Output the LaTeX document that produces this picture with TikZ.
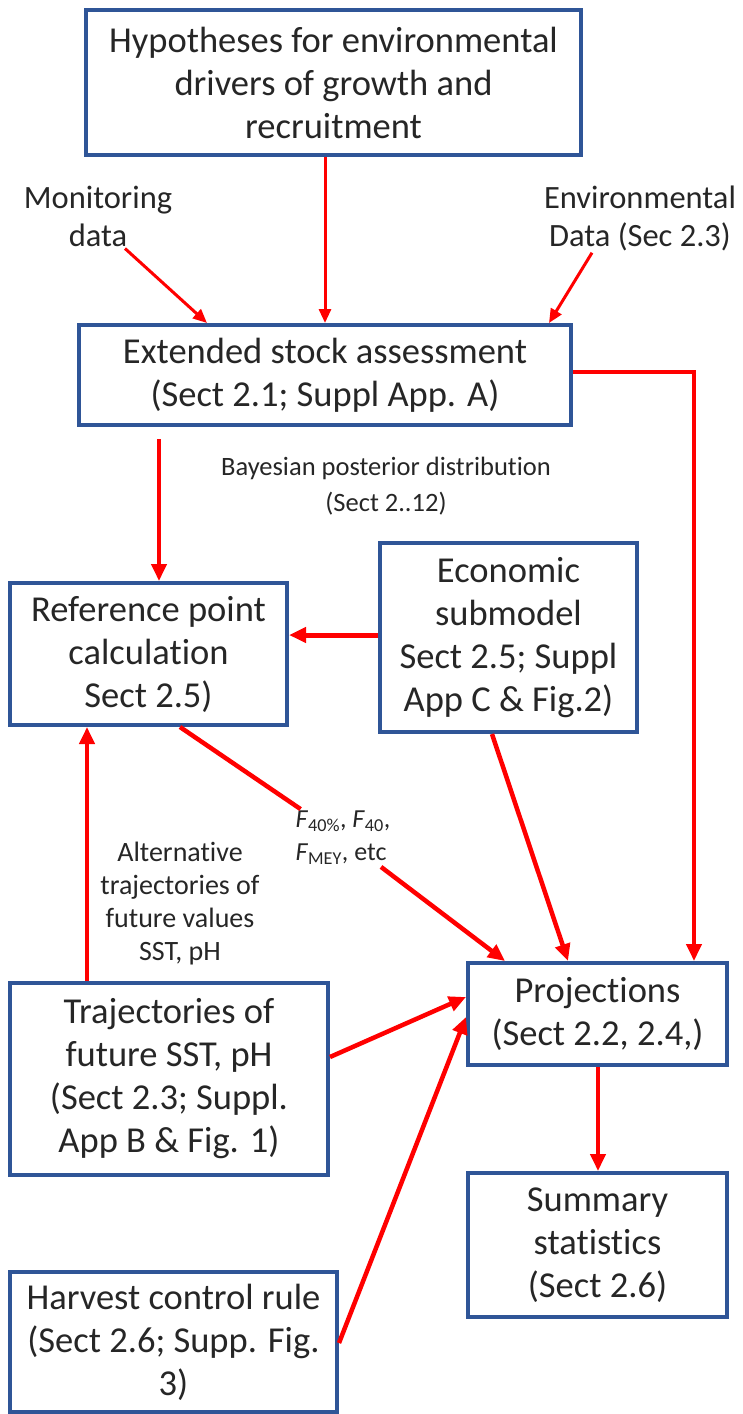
\documentclass[tikz,border=0pt]{standalone}
\usepackage{fontspec}
\setmainfont{Carlito}[Ligatures=NoCommon]
\usetikzlibrary{arrows.meta}
\definecolor{boxblue}{HTML}{2F5597}
\definecolor{txtgray}{HTML}{262626}

\begin{document}
\begin{tikzpicture}[x=1pt,y=-1pt]
	\tikzstyle{block}=[draw=boxblue, line width=4pt, fill=white, inner sep=0pt, align=center, text=txtgray, font=\fontsize{36.5}{43}\selectfont]
	\tikzstyle{note}=[inner sep=2pt, align=center, text=txtgray]
	\tikzstyle{link}=[draw=red, line width=4.5pt, -{Triangle[length=17pt,width=15pt]}]
	\tikzstyle{feed}=[draw=red, line width=3pt, -{Triangle[length=14pt,width=12pt]}]
	\useasboundingbox (0,0) rectangle (742,1414);
	\node [block, minimum width=495pt, minimum height=145pt] (hyp) at (333.5,82.5) {Hypotheses for environmental\\drivers of growth and\\recruitment};
	\node [block, minimum width=492pt, minimum height=100pt] (esa) at (325,375) {Extended stock assessment\\(Sect 2.1; Suppl App. A)};
	\node [block, minimum width=277pt, minimum height=142pt] (ref) at (148.5,654) {Reference point\\calculation\\Sect 2.5)};
	\node [block, minimum width=257pt, minimum height=189pt] (eco) at (508.5,637.5) {Economic\\submodel\\Sect 2.5; Suppl\\App C \& Fig.2)};
	\node [block, minimum width=318pt, minimum height=192pt] (traj) at (169,1079) {Trajectories of\\future SST, pH\\(Sect 2.3; Suppl.\\App B \& Fig. 1)};
	\node [block, minimum width=259pt, minimum height=102pt] (proj) at (597.5,1014) {Projections\\(Sect 2.2, 2.4,)};
	\node [block, minimum width=259pt, minimum height=144pt] (summ) at (597.5,1245) {Summary\\statistics\\(Sect 2.6)};
	\node [block, minimum width=327pt, minimum height=140pt] (harv) at (173.5,1342) {Harvest control rule\\(Sect 2.6; Supp. Fig.\\3)};
	\node [note, font=\fontsize{32.5}{38}\selectfont] (mon) at (98,216) {Monitoring\\data};
	\node [note, font=\fontsize{32.5}{38}\selectfont] (env) at (640,218) {Environmental\\Data (Sec 2.3)};
	\node [note, font=\fontsize{26.5}{36}\selectfont] (bayes) at (386,486) {Bayesian posterior distribution\\(Sect 2..12)};
	\node [note, font=\fontsize{28}{33}\selectfont] (alt) at (180,904) {Alternative\\trajectories of\\future values\\SST, pH};
	\node [note, align=left, font=\fontsize{26}{33}\selectfont] (flab) at (343,838) {\textit{F}\textsubscript{40\%}, \textit{F}\textsubscript{40},\\\textit{F}\textsubscript{MEY}, etc};
	\draw [feed] (esa.north |- hyp.south) -- (esa.north);
	\draw [feed] ([xshift=27pt]mon.south) -- ([xshift=-118pt]esa.north);
	\draw [feed] ([xshift=-48pt]env.south) -- ([xshift=224pt]esa.north);
	\draw [link, line width=4pt] ([yshift=3pt]esa.east) -| ([xshift=96.5pt]proj.north);
	\draw [link, line width=4pt, shorten <=12pt] ([xshift=-166pt]esa.south) -- ([xshift=-166pt]esa.south |- ref.north);
	\draw [link, line width=5pt] ([yshift=2.5pt]eco.west) -- ([yshift=2.5pt]eco.west -| ref.east);
	\draw [link, line width=4pt] ([xshift=-82pt]traj.north) -- ([xshift=-82pt]traj.north |- ref.south);
	\draw [red, line width=4.5pt] ([xshift=31.5pt]ref.south) -- (flab);
	\draw [link] (flab) -- ([xshift=-92.5pt]proj.north);
	\draw [link] ([xshift=-16.5pt]eco.south) -- ([xshift=-29.5pt]proj.north);
	\draw [link] ([yshift=22pt]traj.east) -- ([yshift=17pt]proj.west);
	\draw [link] ([yshift=-1pt]harv.east) -- ([yshift=-3pt]proj.west);
	\draw [link, line width=4pt] ([xshift=0.5pt]proj.south) -- ([xshift=0.5pt]summ.north);
\end{tikzpicture}
\end{document}
